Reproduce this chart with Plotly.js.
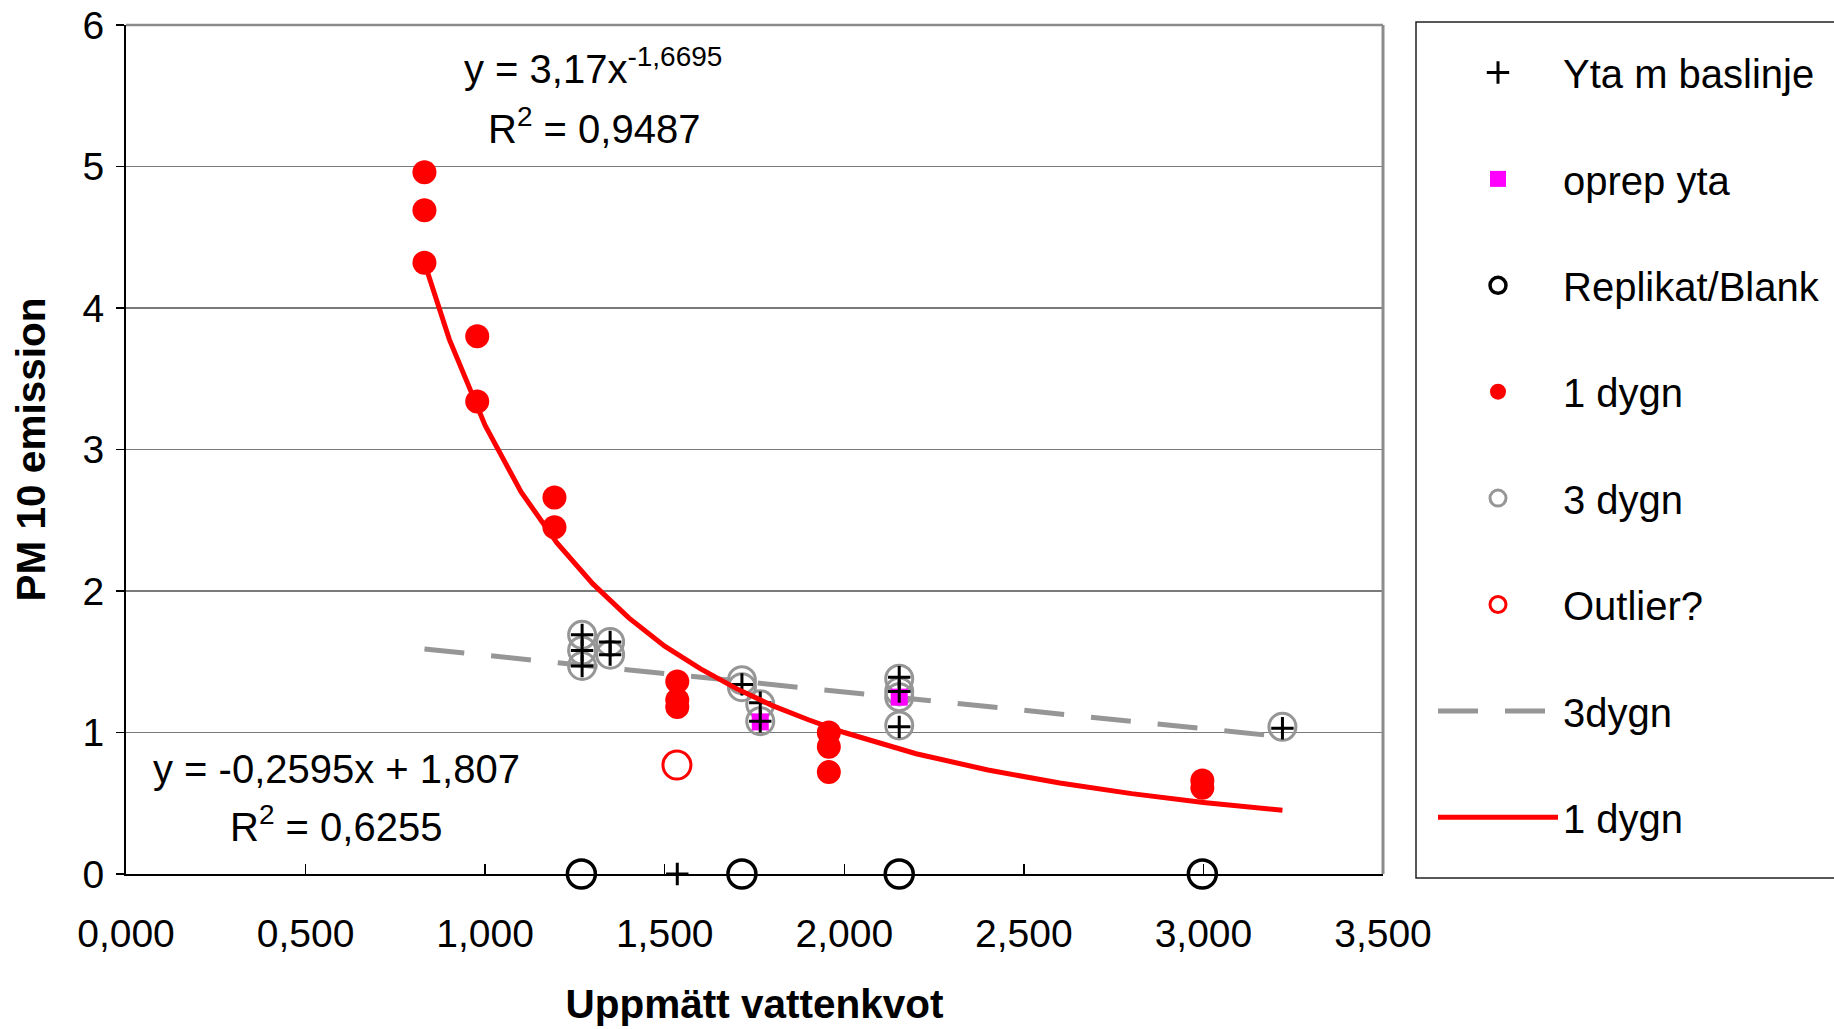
<!DOCTYPE html>
<html>
<head>
<meta charset="utf-8">
<script src="https://cdn.plot.ly/plotly-3.0.1.min.js"></script>
<style>html,body{margin:0;padding:0;background:#fff;}#chart{width:1834px;height:1029px;}</style>
</head>
<body>
<div id="chart"></div>
<script>
// ---- data ----
var plusX = [1.270, 1.270, 1.270, 1.348, 1.348, 1.715, 1.766, 1.766, 2.153, 2.153, 2.153, 3.220, 1.535];
var plusY = [1.69, 1.58, 1.47, 1.64, 1.55, 1.34, 1.21, 1.08, 1.39, 1.29, 1.04, 1.03, 0];

var oprepX = [1.766, 2.153];
var oprepY = [1.075, 1.25];

var blankX = [1.268, 1.715, 2.153, 2.997];
var blankY = [0, 0, 0, 0];

var dygn1X = [0.831, 0.831, 0.831, 0.978, 0.978, 1.193, 1.193, 1.535, 1.535, 1.535, 1.957, 1.957, 1.957, 2.997, 2.997];
var dygn1Y = [4.96, 4.69, 4.32, 3.80, 3.34, 2.66, 2.45, 1.36, 1.23, 1.18, 1.00, 0.90, 0.72, 0.66, 0.61];

var dygn3X = [1.270, 1.270, 1.270, 1.348, 1.348, 1.715, 1.715, 1.766, 1.766, 2.153, 2.153, 2.153, 2.153, 3.220];
var dygn3Y = [1.69, 1.58, 1.47, 1.64, 1.55, 1.37, 1.32, 1.20, 1.08, 1.38, 1.29, 1.25, 1.05, 1.04];

var outlierX = [1.534];
var outlierY = [0.77];

var trend3X = [0.831, 3.220];
var trend3Y = [1.59, 0.97];

var trend1X = [0.831, 0.90, 1.00, 1.10, 1.20, 1.30, 1.40, 1.50, 1.60, 1.70, 1.80, 1.90, 2.00, 2.20, 2.40, 2.60, 2.80, 3.00, 3.220];
var trend1Y = [4.32, 3.78, 3.17, 2.70, 2.34, 2.05, 1.81, 1.61, 1.45, 1.31, 1.19, 1.09, 1.00, 0.85, 0.735, 0.643, 0.568, 0.506, 0.450];

var yTickVals = [0, 1, 2, 3, 4, 5, 6];
var xTickVals = [0, 0.5, 1, 1.5, 2, 2.5, 3, 3.5];

var names = ['Yta m baslinje', 'oprep yta', 'Replikat/Blank', '1 dygn', '3 dygn', 'Outlier?', '3dygn', '1 dygn'];

// ---- traces ----
var traces = [
  {x: trend3X, y: trend3Y, mode: 'lines', name: names[6], legendgroup: 'g7', legendrank: 7,
   line: {color: '#969696', width: 5, dash: '40px,27px'}},
  {x: dygn3X, y: dygn3Y, mode: 'markers', name: names[4], legendgroup: 'g5', legendrank: 5,
   marker: {symbol: 'circle-open', size: 27, color: '#969696', line: {width: 3, color: '#969696'}}, cliponaxis: false},
  {x: oprepX, y: oprepY, mode: 'markers', name: names[1], legendgroup: 'g2', legendrank: 2,
   marker: {symbol: 'square', size: 17, color: '#ff00ff', line: {width: 0}}, cliponaxis: false},
  {x: plusX, y: plusY, mode: 'markers', name: names[0], legendgroup: 'g1', legendrank: 1,
   marker: {symbol: 'cross-thin-open', size: 16, color: '#000000', line: {width: 3, color: '#000000'}}, cliponaxis: false},
  {x: blankX, y: blankY, mode: 'markers', name: names[2], legendgroup: 'g3', legendrank: 3,
   marker: {symbol: 'circle-open', size: 28, color: '#000000', line: {width: 3.5, color: '#000000'}}, cliponaxis: false},
  {x: trend1X, y: trend1Y, mode: 'lines', name: names[7], legendgroup: 'g8', legendrank: 8,
   line: {color: '#ff0000', width: 5}},
  {x: dygn1X, y: dygn1Y, mode: 'markers', name: names[3], legendgroup: 'g4', legendrank: 4,
   marker: {symbol: 'circle', size: 24, color: '#ff0000'}, cliponaxis: false},
  {x: outlierX, y: outlierY, mode: 'markers', name: names[5], legendgroup: 'g6', legendrank: 6,
   marker: {symbol: 'circle-open', size: 28, color: '#ff0000', line: {width: 3, color: '#ff0000'}}, cliponaxis: false}
];

var FONT = 'Liberation Sans, Arial, sans-serif';

var layout = {
  width: 1834, height: 1029,
  margin: {l: 126, r: 451, t: 25, b: 155, pad: 0},
  paper_bgcolor: '#ffffff', plot_bgcolor: '#ffffff',
  font: {family: FONT, size: 40, color: '#000000'},
  separators: ', ',
  showlegend: true,
  legend: {
    xref: 'container', yref: 'container',
    x: 1433 / 1834, y: 1 - 40 / 1029, xanchor: 'left', yanchor: 'top',
    bgcolor: 'rgba(0,0,0,0)', borderwidth: 0, maxheight: 1000,
    font: {family: FONT, size: 40, color: '#000000'},
    itemwidth: 120, tracegroupgap: 51.4, traceorder: 'grouped', itemsizing: 'trace'
  },
  xaxis: {
    range: [0, 3.5], tickvals: xTickVals, tickformat: '.3f',
    ticks: 'inside', ticklen: 10, tickwidth: 1.5, tickcolor: '#000000',
    showline: true, linecolor: '#000000', linewidth: 2,
    showgrid: false, zeroline: false,
    tickfont: {family: FONT, size: 39, color: '#000000'},
    ticklabelstandoff: 24,
    title: {text: '<b>Uppmätt vattenkvot</b>', font: {family: FONT, size: 40.5, color: '#000000'}, standoff: 36}
  },
  yaxis: {
    range: [0, 6], tickvals: yTickVals,
    ticks: 'outside', ticklen: 8, tickwidth: 1.5, tickcolor: '#000000',
    showline: true, linecolor: '#000000', linewidth: 2,
    showgrid: true, gridcolor: '#7a7a7a', gridwidth: 1.5, zeroline: false,
    tickfont: {family: FONT, size: 39, color: '#000000'},
    ticklabelstandoff: 4,
    title: {text: '<b>PM 10 emission</b>', font: {family: FONT, size: 40.5, color: '#000000'}, standoff: 24}
  },
  shapes: [
    {type: 'line', xref: 'paper', yref: 'paper', x0: 1, x1: 1, y0: 0, y1: 1,
     line: {color: '#8c8c8c', width: 3}},
    {type: 'line', xref: 'paper', yref: 'paper', x0: 0, x1: 1, y0: 1, y1: 1,
     line: {color: '#8c8c8c', width: 2.5}},
    {type: 'rect', xref: 'paper', yref: 'paper',
     x0: (1416 - 126) / 1257, x1: 1.5, y0: (874 - 878) / 849, y1: (874 - 22) / 849,
     line: {color: '#222222', width: 1.5}, fillcolor: 'rgba(0,0,0,0)'}
  ],
  annotations: [
    {xref: 'paper', yref: 'paper', x: (593 - 126) / 1257, y: (874 - 66) / 849, xanchor: 'center', yanchor: 'middle',
     text: 'y = 3,17x<sup>-1,6695</sup>', showarrow: false, font: {family: FONT, size: 40, color: '#000000'}},
    {xref: 'paper', yref: 'paper', x: (594 - 126) / 1257, y: (874 - 126) / 849, xanchor: 'center', yanchor: 'middle',
     text: 'R<sup>2</sup> = 0,9487', showarrow: false, font: {family: FONT, size: 40, color: '#000000'}},
    {xref: 'paper', yref: 'paper', x: (336 - 126) / 1257, y: (874 - 769) / 849, xanchor: 'center', yanchor: 'middle',
     text: 'y = -0,2595x + 1,807', showarrow: false, font: {family: FONT, size: 40, color: '#000000'}},
    {xref: 'paper', yref: 'paper', x: (336 - 126) / 1257, y: (874 - 824) / 849, xanchor: 'center', yanchor: 'middle',
     text: 'R<sup>2</sup> = 0,6255', showarrow: false, font: {family: FONT, size: 40, color: '#000000'}}
  ]
};

Plotly.newPlot('chart', traces, layout, {displayModeBar: false, staticPlot: true});
</script>
</body>
</html>
